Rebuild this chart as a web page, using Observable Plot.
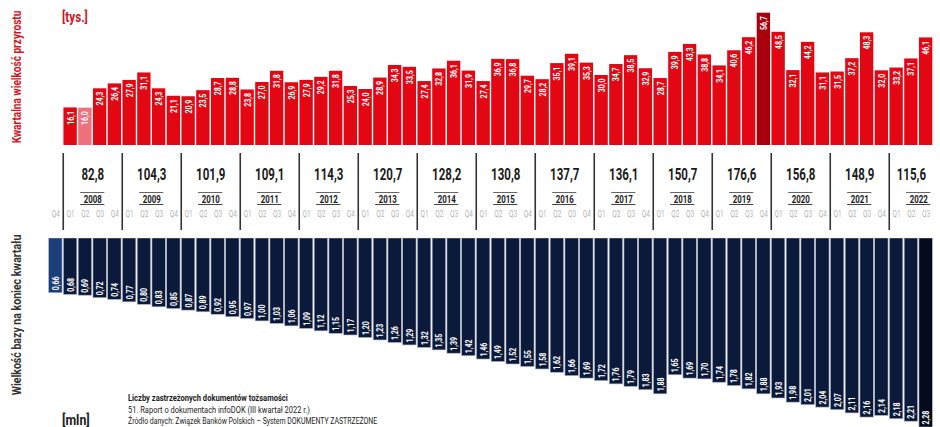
<!DOCTYPE html>
<html><head><meta charset="utf-8">
<script src="https://cdn.jsdelivr.net/npm/d3@7"></script>
<script src="https://cdn.jsdelivr.net/npm/@observablehq/plot@0.6"></script>
<style>
body{margin:0;background:#fff;}
#wrap{position:relative;width:940px;height:427px;overflow:hidden;font-family:Roboto,"Noto Sans",sans-serif;}
#wrap svg{display:block;}
.ov{position:absolute;white-space:nowrap;line-height:1;}
</style></head><body><div id="wrap"></div>
<script>
// ---- data ----
const firstQuarter = "Q4";             // 2007 Q4 (base only)
const quarterNames = ["Q1","Q2","Q3","Q4"];
const years = [2008,2009,2010,2011,2012,2013,2014,2015,2016,2017,2018,2019,2020,2021,2022];
const yearTotals = [82.8,104.3,101.9,109.1,114.3,120.7,128.2,130.8,137.7,136.1,150.7,176.6,156.8,148.9,115.6];
// quarterly growth [thous.], 2008 Q1 .. 2022 Q3
const growth = [16.1,16.0,24.3,26.4, 27.9,31.1,24.3,21.1, 20.9,23.5,28.7,28.8, 23.8,27.0,31.8,26.9,
  27.9,29.2,31.8,25.3, 24.0,28.9,34.3,33.5, 27.4,32.8,36.1,31.9, 27.4,36.9,36.8,29.7,
  28.2,35.1,39.1,35.3, 30.0,34.7,38.5,32.9, 28.7,39.9,43.3,38.8, 34.1,40.6,46.2,56.7,
  48.5,32.1,44.2,31.1, 31.5,37.2,48.3,32.0, 33.2,37.1,46.1];
// base size at end of quarter [mln], 2007 Q4 .. 2022 Q3
const base = [0.66, 0.68,0.69,0.72,0.74, 0.77,0.80,0.83,0.85, 0.87,0.89,0.92,0.95, 0.97,1.00,1.03,1.06,
  1.09,1.12,1.15,1.17, 1.20,1.23,1.26,1.29, 1.32,1.35,1.39,1.42, 1.46,1.49,1.52,1.55,
  1.58,1.62,1.66,1.69, 1.72,1.76,1.79,1.83, 1.88,1.65,1.69,1.70, 1.74,1.78,1.82,1.88,
  1.93,1.98,2.01,2.04, 2.07,2.11,2.16,2.14, 2.18,2.21,2.28];
const growthHighlightLight = "2008 Q2";
const growthHighlightDark = "2019 Q4";
const partialYear = 2022;   // only three quarters shown

// ---- build tables ----
const qLabels = [{i:0, key:"2007 Q4", q:firstQuarter}];
years.forEach((y, yi) => quarterNames.forEach((q, qi) => {
  const i = 1 + yi*4 + qi;
  if (i < base.length) qLabels.push({i, key:`${y} ${q}`, q});
}));
const topData = growth.map((v, j) => ({i: j+1, key: qLabels[j+1].key, v}));
const botData = base.map((v, i) => ({i, key: qLabels[i].key, v}));
const yearData = years.map((y, yi) => ({year: y, start: 1 + yi*4, total: yearTotals[yi]}));
const fmt1 = v => d3.format(".1f")(v).replace(".", ",");
const fmt2 = v => d3.format(".2f")(v).replace(".", ",");

const RED = "#e30613", PINK = "#f0707c", DARKRED = "#a8000c";
const NAVY = "#0b1a3b", BLUE = "#1c3f7c", DARKNAVY = "#050b1c";
const FONT = "Roboto, Noto Sans, sans-serif";
const X = {domain:[0,60], axis:null};
const common = {width:940, marginLeft:48, marginRight:7, style:{fontFamily:FONT, background:"transparent"}};

const topPlot = Plot.plot({...common, height:150, marginTop:5, marginBottom:5, x:X, y:{domain:[0,60], axis:null},
  marks:[
    Plot.rectY(topData, {x1:d=>d.i, x2:d=>d.i+1, y:"v", insetLeft:0.7, insetRight:0.7,
      fill:d=> d.key===growthHighlightLight ? PINK : d.key===growthHighlightDark ? DARKRED : RED}),
    Plot.text(topData, {x:d=>d.i+0.5, y:"v", text:d=>fmt1(d.v), rotate:-90, textAnchor:"end", dy:3,
      fill:"white", fontSize:9, fontWeight:"bold"})
  ]});

const midPlot = Plot.plot({...common, height:88, marginTop:0, marginBottom:0, x:X,
  marks:[
    Plot.ruleX(yearData, {x:"start", stroke:"#333", strokeWidth:1.6, insetTop:3, insetBottom:8}),
    Plot.text(yearData, {x:d=>d.start+(d.year===partialYear?1.5:2), text:d=>fmt1(d.total), frameAnchor:"top",
      lineAnchor:"middle", dy:24, fontSize:16, fontWeight:"bold", fill:"#1a1a1a"}),
    Plot.rect(yearData, {x1:d=>d.start+1.18, x2:d=>d.start+2.82, insetTop:42, insetBottom:45, fill:"#666"}),
    Plot.rect(yearData, {x1:d=>d.start+1.18, x2:d=>d.start+2.82, insetTop:54, insetBottom:33, fill:"#444"}),
    Plot.text(yearData, {x:d=>d.start+2, text:d=>String(d.year), frameAnchor:"top", lineAnchor:"middle", dy:48.5,
      fontSize:11, fontWeight:"bold", fill:"#1a1a1a"}),
    Plot.text(qLabels, {x:d=>d.i+0.5, text:"q", frameAnchor:"top", lineAnchor:"middle", dy:63.5, fontSize:9, fill:"#b4b4b4"})
  ]});

const botPlot = Plot.plot({...common, height:189, marginTop:0, marginBottom:0, x:X,
  y:{domain:[0,2.28], reverse:true, axis:null},
  marks:[
    Plot.rectY(botData, {x1:d=>d.i, x2:d=>d.i+1, y:"v", insetLeft:0.7, insetRight:0.7,
      stroke:"#a9b2bf", strokeWidth:0.6,
      fill:d=> d.i===0 ? BLUE : d.i===botData.length-1 ? DARKNAVY : NAVY}),
    Plot.text(botData, {x:d=>d.i+0.5, y:"v", text:d=>fmt2(d.v), rotate:-90, textAnchor:"start", dy:-3,
      fill:"white", fontSize:9, fontWeight:"bold"})
  ]});

const wrap = document.getElementById("wrap");
wrap.append(topPlot, midPlot, botPlot);

// condensed look: squeeze the glyphs of each real text element
function condense(svg, f) {
  d3.select(svg).selectAll("text").each(function() {
    const L = this.getComputedTextLength();
    if (L > 0) { this.setAttribute("textLength", (L*f).toFixed(2)); this.setAttribute("lengthAdjust", "spacingAndGlyphs"); }
  });
}
condense(topPlot, 0.78);
condense(midPlot, 0.72);
condense(botPlot, 0.78);

// overlay labels fitted to the reference widths
function label(text, o) {
  const d = document.createElement("span");
  d.className = "ov"; d.textContent = text;
  Object.assign(d.style, {color:o.color, fontWeight:o.weight||"normal", fontSize:o.size+"px", left:o.x+"px", top:o.y+"px"});
  wrap.append(d);
  const s = o.w / d.offsetWidth;
  if (o.rotate) { d.style.transformOrigin = "center"; d.style.transform = `translate(-50%,-50%) rotate(-90deg) scaleX(${s})`; }
  else { d.style.transformOrigin = "left center"; d.style.transform = `translateY(-50%) scaleX(${s})`; }
}
label("Kwartalna wielkość przyrostu", {x:16, y:77, w:133, size:13, weight:"bold", color:"#d7121c", rotate:true});
label("Wielkość bazy na koniec kwartału", {x:16, y:315, w:161, size:13, weight:"bold", color:"#333", rotate:true});
label("[tys.]", {x:62, y:17, w:26, size:14, weight:"bold", color:"#d7121c"});
label("[mln]", {x:62, y:420, w:28, size:15, weight:"bold", color:"#222"});
label("Liczby zastrzeżonych dokumentów tożsamości", {x:128, y:398, w:160, size:9.5, weight:"bold", color:"#222"});
label("51. Raport o dokumentach infoDOK (III kwartał 2022 r.)", {x:128, y:410, w:182, size:9.5, color:"#222"});
label("Źródło danych: Związek Banków Polskich – System DOKUMENTY ZASTRZEŻONE", {x:128, y:421, w:249, size:9.5, color:"#222"});
</script></body></html>
